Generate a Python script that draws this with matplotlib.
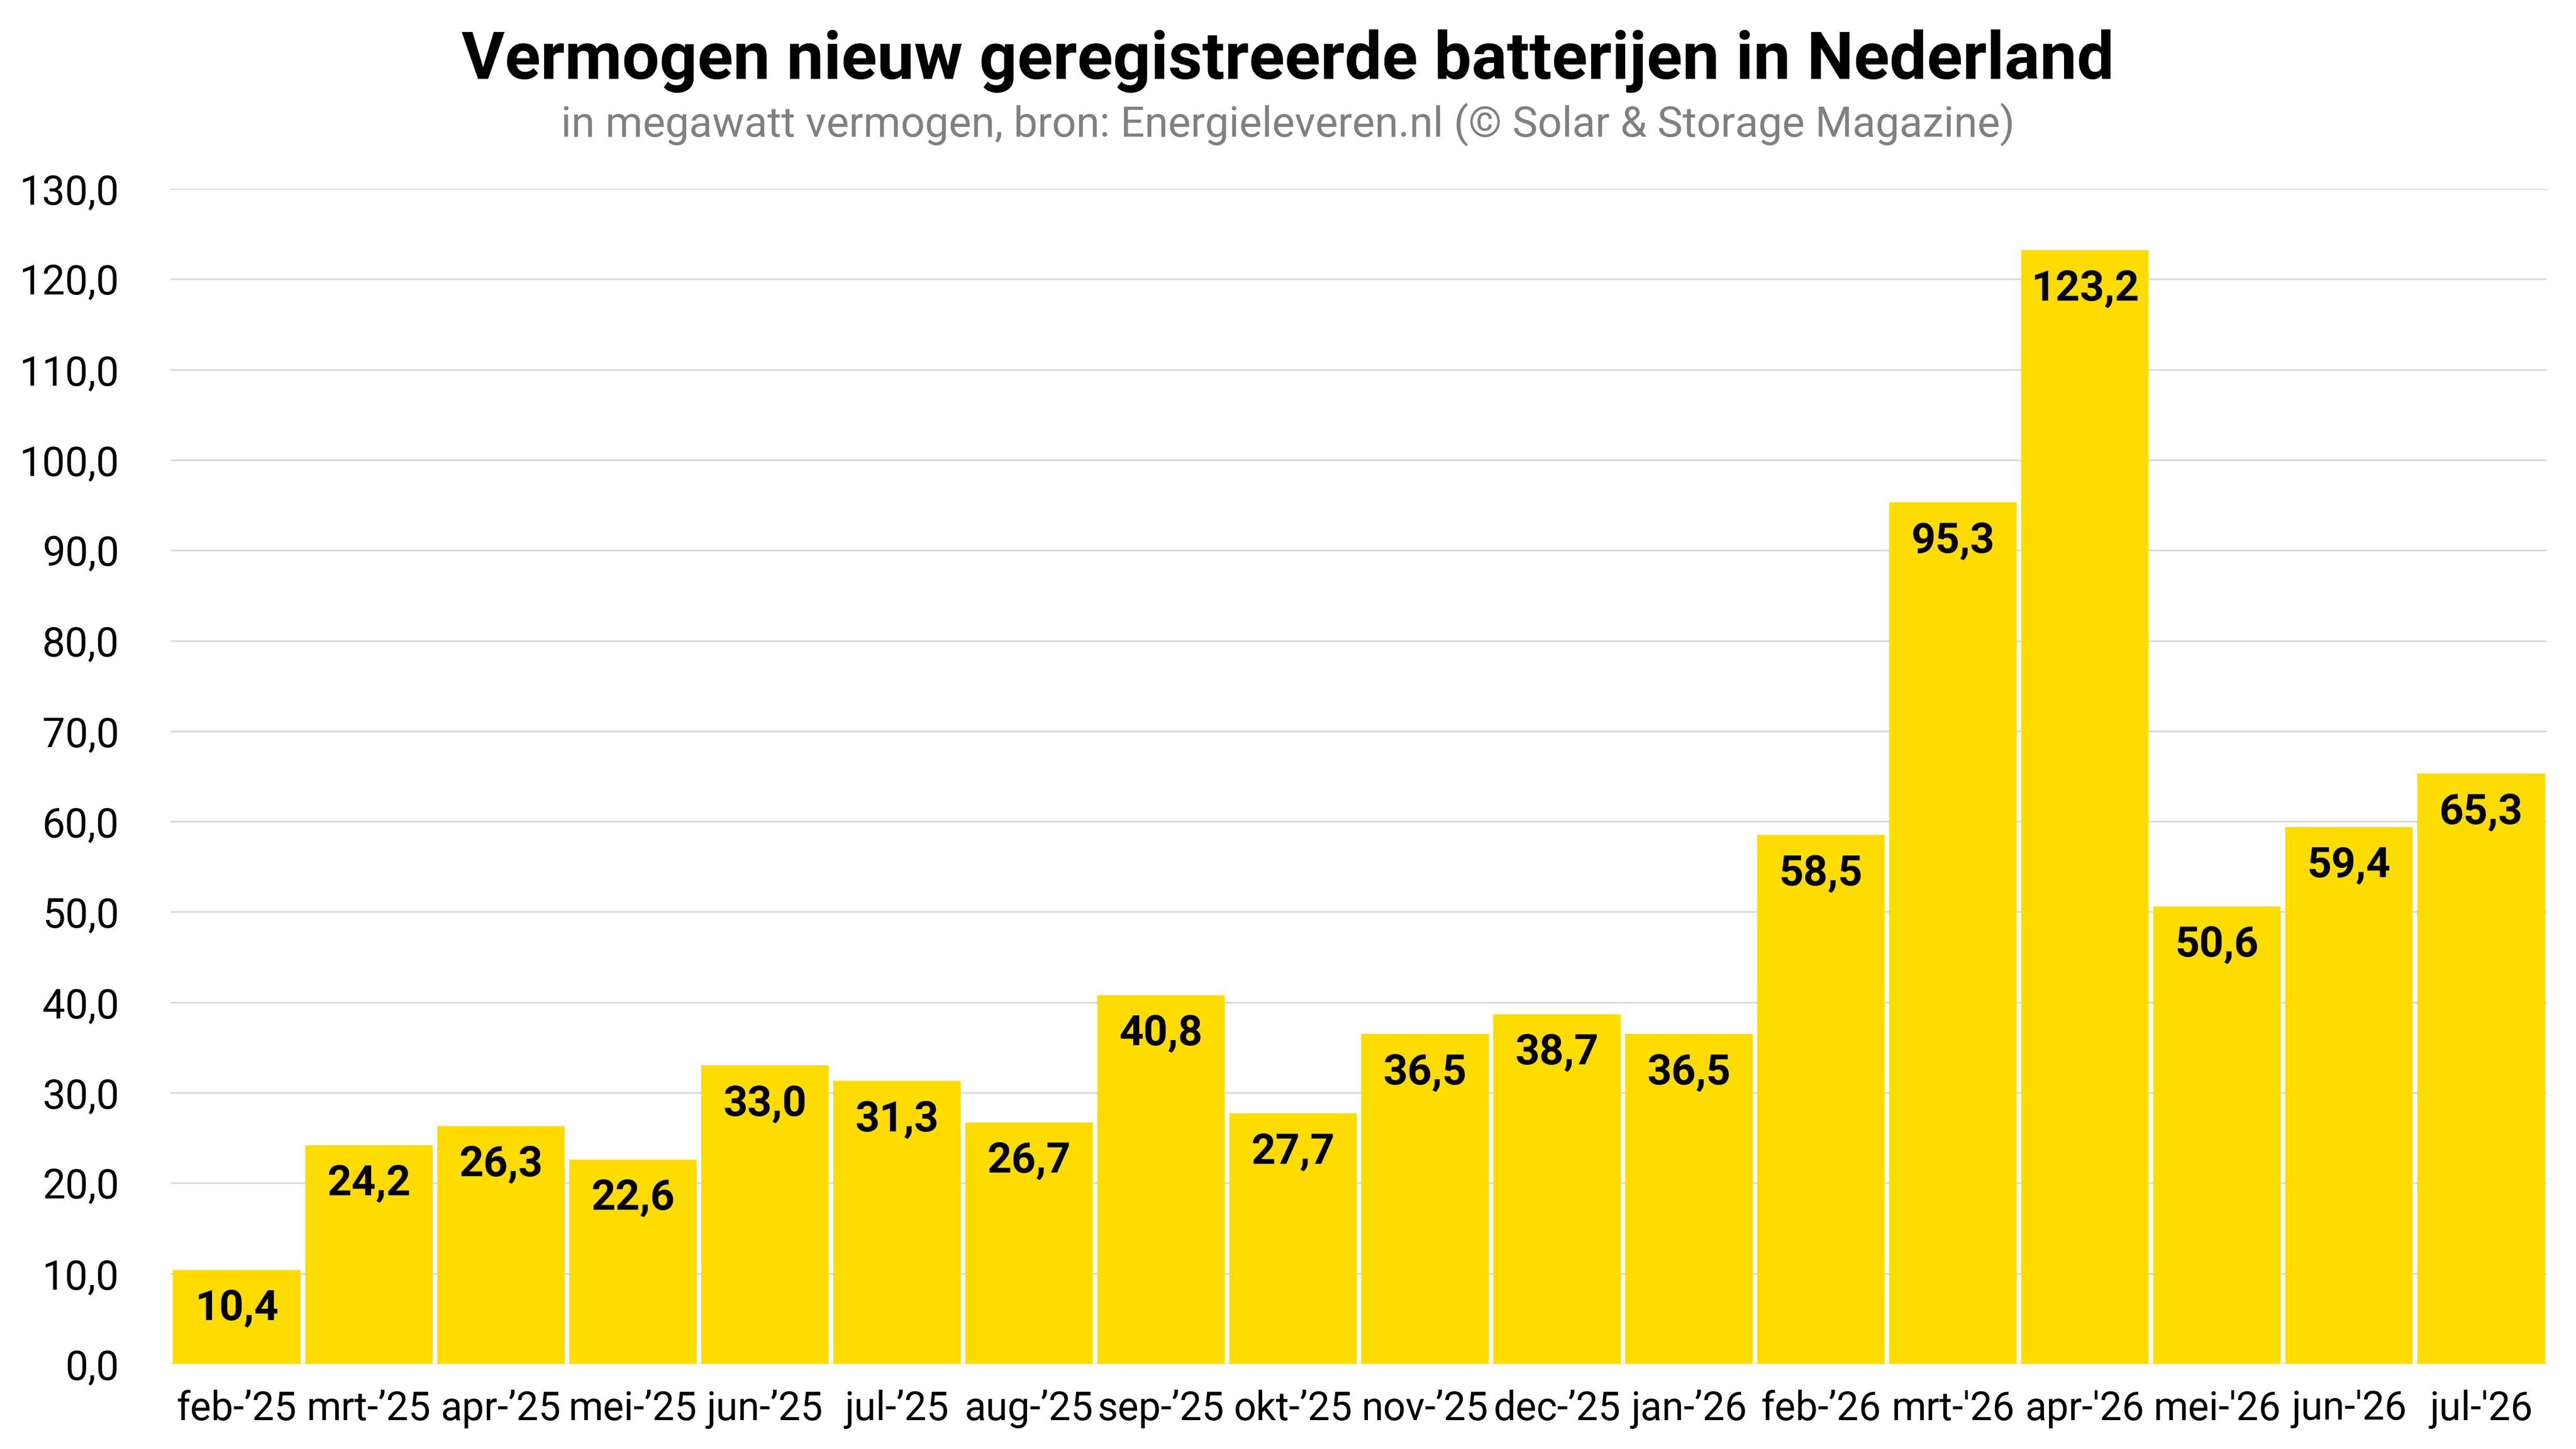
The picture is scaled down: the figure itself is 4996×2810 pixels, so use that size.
import matplotlib
matplotlib.use("Agg")
import matplotlib.pyplot as plt
from matplotlib.ticker import FuncFormatter

months = ["feb-’25", "mrt-’25", "apr-’25", "mei-’25", "jun-’25", "jul-’25",
          "aug-’25", "sep-’25", "okt-’25", "nov-’25", "dec-’25", "jan-’26",
          "feb-’26", "mrt-'26", "apr-'26", "mei-'26", "jun-'26", "jul-'26"]
values = [10.4, 24.2, 26.3, 22.6, 33.0, 31.3, 26.7, 40.8, 27.7, 36.5, 38.7,
          36.5, 58.5, 95.3, 123.2, 50.6, 59.4, 65.3]
yticks = list(range(0, 131, 10))

title = "Vermogen nieuw geregistreerde batterijen in Nederland"
subtitle = "in megawatt vermogen, bron: Energieleveren.nl (© Solar & Storage Magazine)"

plt.rcParams['font.family'] = ['Roboto', 'DejaVu Sans']

W, H, DPI = 4996, 2810, 300
fig = plt.figure(figsize=(W / DPI, H / DPI), dpi=DPI)
fig.patch.set_facecolor("white")

L, R, B, T = 331, 4940, 2645, 366
ax = fig.add_axes([L / W, 1 - B / H, (R - L) / W, (B - T) / H])
x = list(range(len(months)))
ax.bar(x, values, width=0.965, color="#FEDC00", zorder=2)
ax.set_xlim(-0.5, len(months) - 0.5)
ax.set_ylim(0, 130)
ax.set_yticks(yticks)
ax.yaxis.set_major_formatter(FuncFormatter(lambda v, p: f"{v:.1f}".replace(".", ",")))
ax.set_xticks(x)
ax.set_xticklabels(months)
ax.grid(axis="y", color="#D9D9D9", linewidth=0.8, zorder=0)
ax.set_axisbelow(True)
for s in ax.spines.values():
    s.set_visible(False)
ax.tick_params(axis="both", length=0, colors="black")
ax.tick_params(axis="y", pad=24, labelsize=19)
ax.tick_params(axis="x", pad=12, labelsize=18.4)

for xi, v in zip(x, values):
    ax.annotate(f"{v:.1f}".replace(".", ","), xy=(xi, v), xytext=(0, -18),
                textcoords="offset points", ha="center", va="center",
                fontsize=19.8, fontweight="bold", color="black", zorder=3)

fig.text(0.5, 1 - 118 / H, title, ha="center", va="center",
         fontsize=30.8, fontweight="bold", color="black")
fig.text(0.5, 1 - 242 / H, subtitle, ha="center", va="center",
         fontsize=19.8, color="#808080")

fig.savefig("out.png", dpi=DPI, facecolor="white")
